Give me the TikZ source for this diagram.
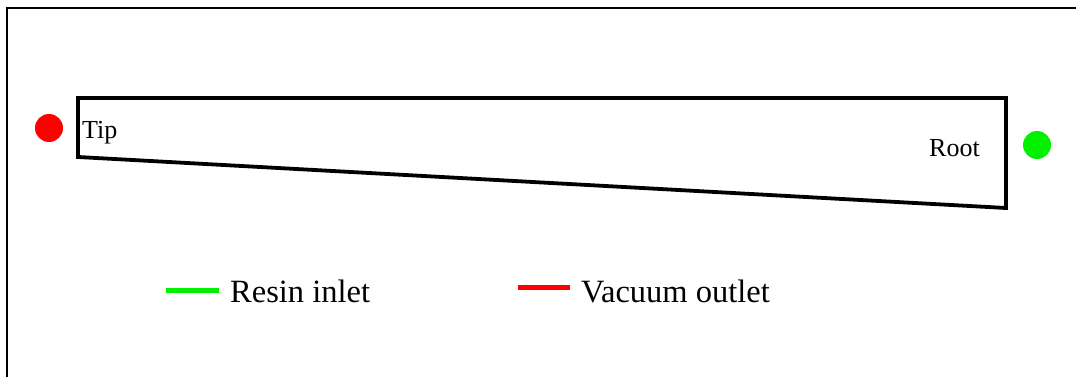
\documentclass[tikz,border=0pt]{standalone}
\usepackage{fontspec}
\setmainfont{Liberation Serif}
\definecolor{inletgreen}{RGB}{0,240,0}
\definecolor{outletred}{RGB}{255,0,0}
\begin{document}
\begin{tikzpicture}[x=1pt,y=-1pt,
  lbl/.style={inner sep=0pt,anchor=base west,font=\fontsize{26}{30}\selectfont},
  leg/.style={inner sep=0pt,anchor=base west,font=\fontsize{32.5}{38}\selectfont},
  port/.style={circle,inner sep=0pt,minimum size=28pt},
  legline/.style={line width=5pt}]
\useasboundingbox (0,0) rectangle (1076,377);
% frame (cut off at right and bottom)
\draw[line width=2pt] (7,390) -- (7,8) -- (1090,8);
% blade outline
\coordinate (tl) at (78,98);
\coordinate (tr) at (1006,98);
\coordinate (br) at (1006,208);
\coordinate (bl) at (78,157);
\draw[line width=3.8pt,line join=miter] (tl) -- (tr) -- (br) -- (bl) -- cycle;
% labels
\node[lbl] (tip) at (82,139) {Tip};
\node[lbl] (root) at (929,157) {Root};
% ports
\node[port,fill=outletred] (vac) at (49,128) {};
\node[port,fill=inletgreen] (res) at (1037,145) {};
% legend
\coordinate (g1) at (166,290);
\coordinate (g2) at (219,290);
\draw[legline,inletgreen] (g1) -- (g2);
\node[leg] (resin) at (230,302) {Resin inlet};
\coordinate (r1) at (518,287);
\coordinate (r2) at (570,287);
\draw[legline,outletred] (r1) -- (r2);
\node[leg] (vacuum) at (581,302) {Vacuum outlet};
\end{tikzpicture}
\end{document}
